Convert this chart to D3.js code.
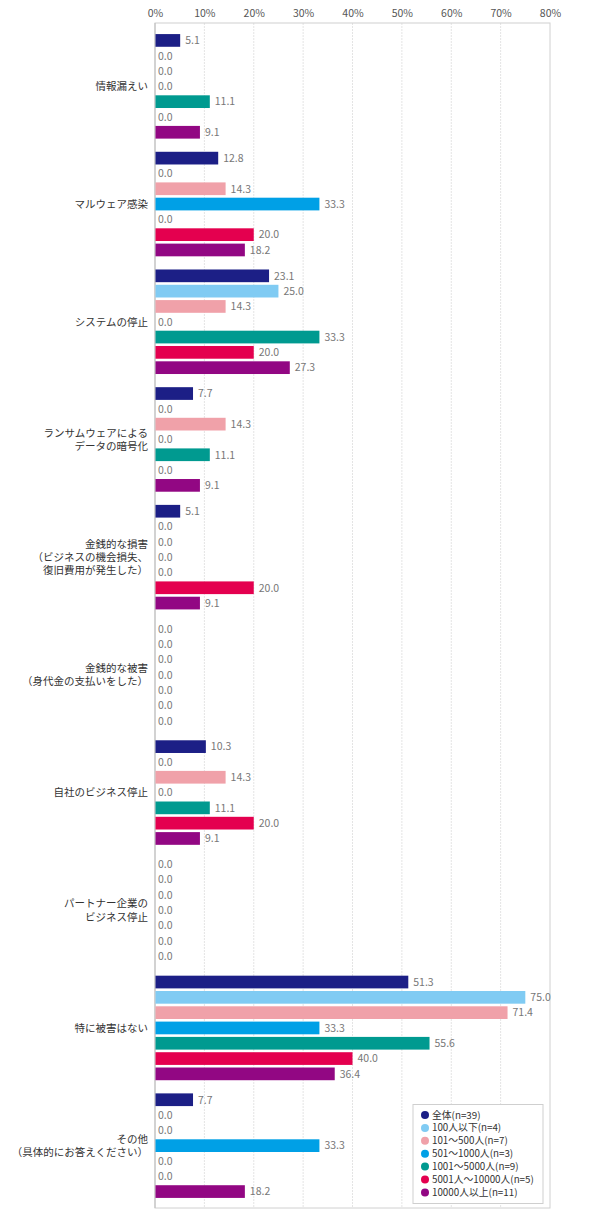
<!DOCTYPE html>
<html><head><meta charset="utf-8">
<script src="https://cdn.jsdelivr.net/npm/d3@7"></script>
<style>
body{margin:0;background:#fff;}
text{font-family:"Noto Sans CJK JP","Noto Sans",sans-serif;}
</style></head>
<body><svg id="c" width="590" height="1229"></svg>
<script>
const categories = [
  ["情報漏えい"],
  ["マルウェア感染"],
  ["システムの停止"],
  ["ランサムウェアによる","データの暗号化"],
  ["金銭的な損害","（ビジネスの機会損失、","復旧費用が発生した）"],
  ["金銭的な被害","（身代金の支払いをした）"],
  ["自社のビジネス停止"],
  ["パートナー企業の","ビジネス停止"],
  ["特に被害はない"],
  ["その他","（具体的にお答えください）"]
];
const seriesNames = ["全体(n=39)","100人以下(n=4)","101～500人(n=7)","501～1000人(n=3)","1001～5000人(n=9)","5001人～10000人(n=5)","10000人以上(n=11)"];
const seriesColors = ["#1c1f86","#80cbf3","#f0a1a9","#00a0e6","#009a90","#e4004f","#920783"];
const values = [
  [5.1,0.0,0.0,0.0,11.1,0.0,9.1],
  [12.8,0.0,14.3,33.3,0.0,20.0,18.2],
  [23.1,25.0,14.3,0.0,33.3,20.0,27.3],
  [7.7,0.0,14.3,0.0,11.1,0.0,9.1],
  [5.1,0.0,0.0,0.0,0.0,20.0,9.1],
  [0.0,0.0,0.0,0.0,0.0,0.0,0.0],
  [10.3,0.0,14.3,0.0,11.1,20.0,9.1],
  [0.0,0.0,0.0,0.0,0.0,0.0,0.0],
  [51.3,75.0,71.4,33.3,55.6,40.0,36.4],
  [7.7,0.0,0.0,33.3,0.0,0.0,18.2]
];
const tickValues = [0,10,20,30,40,50,60,70,80];

(function(){
const svg = d3.select("#c");
const pL = 155, pR = 550, pT = 23, pB = 1208;
const x = d3.scaleLinear().domain([0,80]).range([pL,pR]);
const catIdx = d3.range(categories.length);
const y0 = d3.scaleBand().domain(catIdx).range([27.5,1204.5]).padding(0);
const y1 = d3.scaleBand().domain(d3.range(seriesNames.length)).range([0,y0.bandwidth()]).paddingInner(0.17).paddingOuter(0.43);

// gridlines
svg.append("g").selectAll("line").data(tickValues.filter(d=>d>0 && d<80)).join("line")
  .attr("x1",d=>x(d)).attr("x2",d=>x(d)).attr("y1",pT).attr("y2",pB)
  .attr("stroke","#e4e4e4").attr("stroke-width",1).attr("stroke-dasharray","2,1");
// frame
svg.append("rect").attr("x",pL).attr("y",pT).attr("width",pR-pL).attr("height",pB-pT)
  .attr("fill","none").attr("stroke","#d0d0d0").attr("stroke-width",1);
svg.append("line").attr("x1",pL).attr("x2",pL).attr("y1",pT).attr("y2",pB).attr("stroke","#bdbdbd");

// top axis
const ax = d3.axisTop(x).tickValues(tickValues).tickFormat(d=>d+"%").tickSize(0).tickPadding(0);
const axg = svg.append("g").attr("transform",`translate(0,17)`).call(ax);
axg.select(".domain").remove();
axg.selectAll("text").attr("font-size","10.5px").attr("fill","#555").attr("dy","0");

// bars
const groups = svg.append("g").selectAll("g").data(values).join("g")
  .attr("transform",(d,i)=>`translate(0,${y0(i)})`);
groups.selectAll("rect").data(d=>d).join("rect")
  .attr("x",x(0)+0.5).attr("y",(d,j)=>y1(j))
  .attr("width",d=>Math.max(0,x(d)-x(0)-0.5)).attr("height",y1.bandwidth())
  .attr("fill",(d,j)=>seriesColors[j]);
groups.selectAll("text").data(d=>d).join("text")
  .attr("x",d=>d>0 ? x(d)+5 : x(0)+3)
  .attr("y",(d,j)=>y1(j)+y1.bandwidth()/2)
  .attr("dy","0.36em").attr("font-size","10.5px").attr("fill","#777")
  .text(d=>d.toFixed(1));

// category labels
const cl = svg.append("g").selectAll("text").data(categories).join("text")
  .attr("text-anchor","end").attr("font-size","10.5px").attr("fill","#333");
cl.each(function(lines,i){
  const cy = y0(i)+y0.bandwidth()/2;
  const lh = 13.2;
  const t = d3.select(this);
  lines.forEach((ln,k)=>{
    t.append("tspan").attr("x",148).attr("y",cy + (k-(lines.length-1)/2)*lh).attr("dy","0.36em").text(ln);
  });
});

// legend
const lg = svg.append("g");
lg.append("rect").attr("x",413).attr("y",1104.5).attr("width",130).attr("height",99)
  .attr("fill","#fff").attr("stroke","#cfcfcf");
const li = lg.selectAll("g").data(seriesNames).join("g")
  .attr("transform",(d,i)=>`translate(0,${1115+i*12.9})`);
li.append("circle").attr("cx",425).attr("cy",0).attr("r",4).attr("fill",(d,i)=>seriesColors[i]);
li.append("text").attr("x",432).attr("y",0).attr("dy","0.36em").attr("font-size","9.8px").attr("fill","#333").text(d=>d);
})();
</script></body></html>
